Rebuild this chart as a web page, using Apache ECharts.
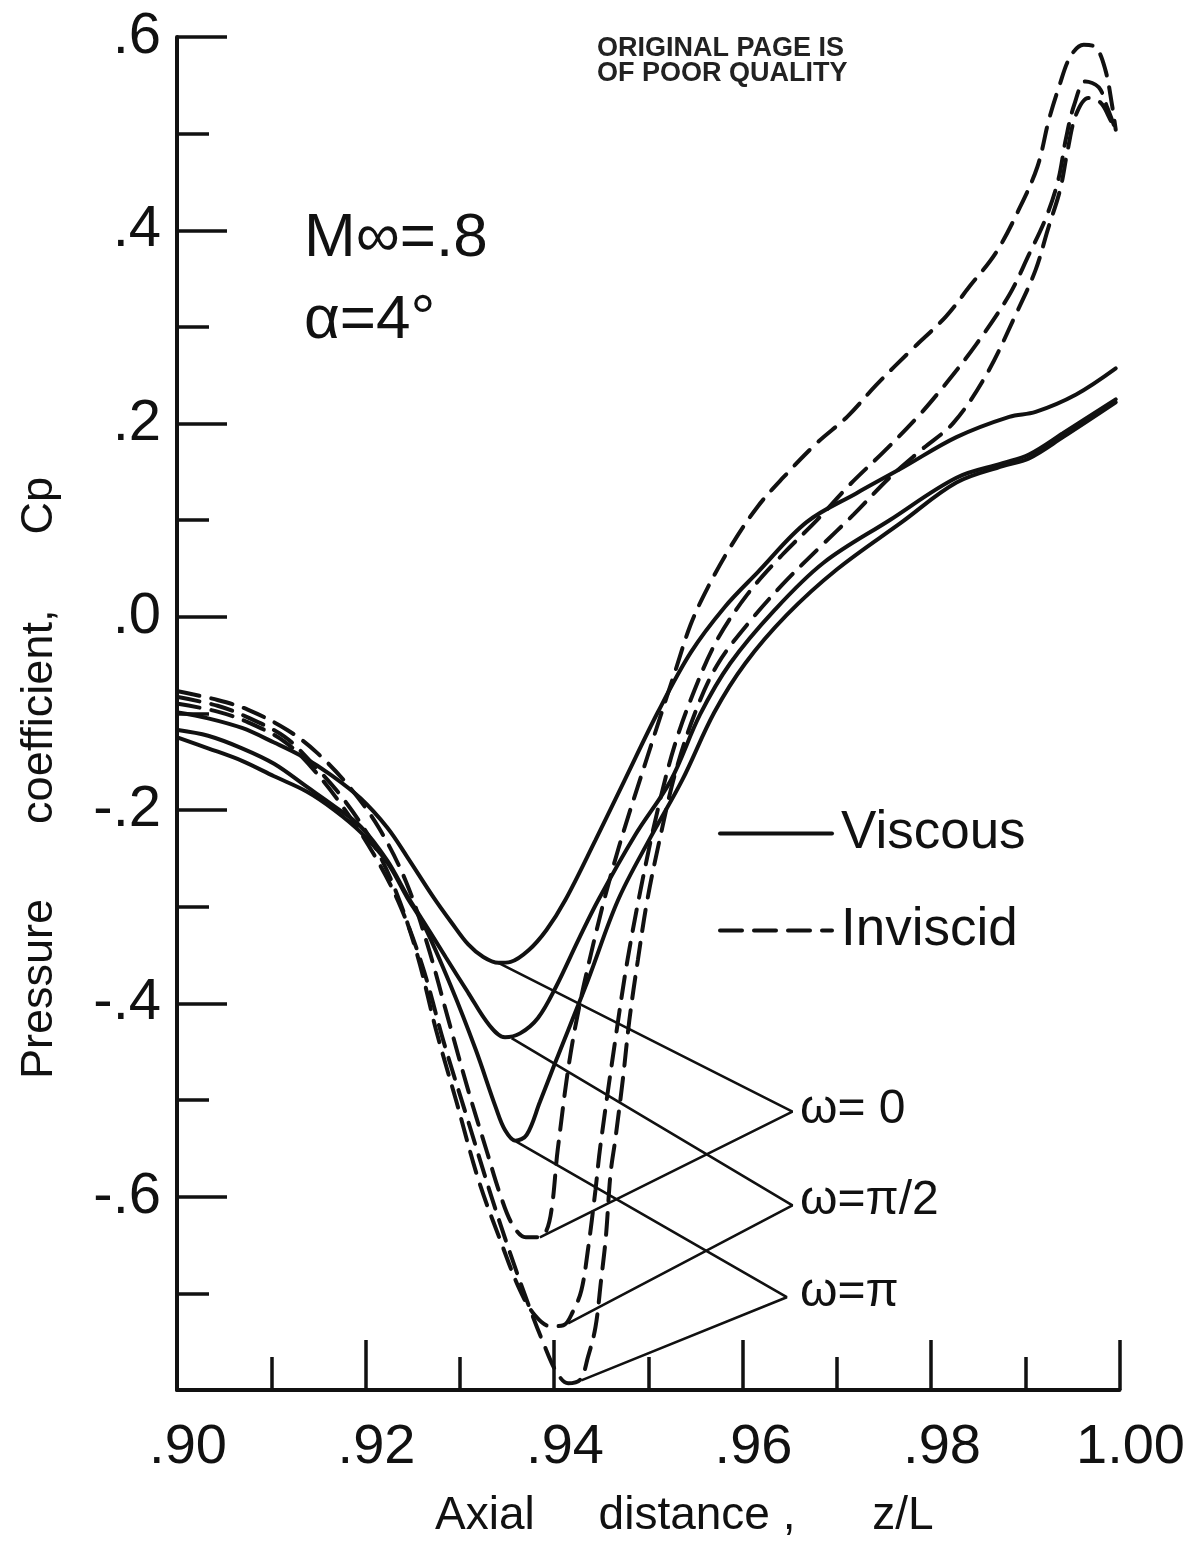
<!DOCTYPE html>
<html>
<head>
<meta charset="utf-8">
<script src="https://cdn.jsdelivr.net/npm/echarts@6/dist/echarts.min.js"></script>
<style>
  html, body { margin: 0; padding: 0; background: #ffffff; }
  #chart { width: 1188px; height: 1545px; }
</style>
</head>
<body>
<div id="chart"></div>
<script>
// Pressure coefficient along the afterbody, M = 0.8, alpha = 4 deg
// Each curve: [z/L, Cp] pairs

// Viscous solutions
const viscousOmega0 = [
  [0.9001,-0.099],[0.9033,-0.105],[0.9069,-0.115],[0.9103,-0.130],[0.9132,-0.144],[0.9164,-0.164],
  [0.9195,-0.188],[0.9223,-0.218],[0.9244,-0.248],[0.9272,-0.290],[0.9291,-0.316],[0.9309,-0.339],
  [0.9325,-0.352],[0.9341,-0.358],[0.9354,-0.357],[0.9373,-0.345],[0.9392,-0.324],[0.9412,-0.293],
  [0.9444,-0.231],[0.9475,-0.169],[0.9510,-0.099],[0.9545,-0.037],[0.9581,0.010],[0.9616,0.046],
  [0.9668,0.098],[0.9721,0.128],[0.9771,0.155],[0.9827,0.186],[0.9883,0.207],[0.9911,0.212],
  [0.9954,0.230],[0.9996,0.257]
];
const viscousOmegaHalfPi = [
  [0.9001,-0.117],[0.9033,-0.123],[0.9069,-0.136],[0.9103,-0.152],[0.9138,-0.176],[0.9167,-0.196],
  [0.9195,-0.217],[0.9223,-0.252],[0.9244,-0.288],[0.9262,-0.316],[0.9285,-0.352],[0.9309,-0.389],
  [0.9331,-0.422],[0.9348,-0.435],[0.9364,-0.431],[0.9383,-0.415],[0.9402,-0.383],[0.9426,-0.334],
  [0.9447,-0.293],[0.9486,-0.226],[0.9524,-0.169],[0.9555,-0.101],[0.9587,-0.048],[0.9634,0.007],
  [0.9686,0.056],[0.9756,0.100],[0.9827,0.144],[0.9876,0.159],[0.9904,0.168],[0.9940,0.190],
  [0.9996,0.225]
];
const viscousOmegaPi = [
  [0.9001,-0.125],[0.9033,-0.136],[0.9069,-0.149],[0.9103,-0.165],[0.9138,-0.181],[0.9167,-0.200],
  [0.9195,-0.223],[0.9223,-0.254],[0.9244,-0.290],[0.9262,-0.319],[0.9291,-0.383],[0.9317,-0.448],
  [0.9338,-0.507],[0.9348,-0.531],[0.9359,-0.542],[0.9371,-0.536],[0.9385,-0.502],[0.9401,-0.462],
  [0.9436,-0.376],[0.9468,-0.293],[0.9502,-0.229],[0.9536,-0.169],[0.9570,-0.099],[0.9603,-0.048],
  [0.9647,0.002],[0.9700,0.049],[0.9769,0.098],[0.9827,0.139],[0.9876,0.156],[0.9904,0.164],
  [0.9940,0.186],[0.9996,0.222]
];

// Inviscid solutions
const inviscidOmega0 = [
  [0.9001,-0.077],[0.9043,-0.086],[0.9075,-0.096],[0.9117,-0.117],[0.9149,-0.141],[0.9183,-0.176],
  [0.9214,-0.218],[0.9243,-0.274],[0.9266,-0.340],[0.9288,-0.417],[0.9309,-0.490],[0.9329,-0.554],
  [0.9343,-0.598],[0.9356,-0.629],[0.9370,-0.642],[0.9383,-0.642],[0.9392,-0.635],[0.9398,-0.609],
  [0.9404,-0.551],[0.9420,-0.438],[0.9444,-0.329],[0.9468,-0.241],[0.9499,-0.145],[0.9528,-0.058],
  [0.9545,-0.008],[0.9563,0.030],[0.9587,0.072],[0.9616,0.114],[0.9644,0.145],[0.9679,0.180],
  [0.9711,0.207],[0.9742,0.240],[0.9779,0.276],[0.9816,0.311],[0.9841,0.342],[0.9869,0.377],
  [0.9893,0.421],[0.9913,0.466],[0.9925,0.514],[0.9936,0.549],[0.9948,0.580],[0.9962,0.592],
  [0.9975,0.589],[0.9985,0.566],[0.9992,0.530],[0.9996,0.504]
];
const inviscidOmegaHalfPi = [
  [0.9001,-0.083],[0.9043,-0.092],[0.9075,-0.104],[0.9114,-0.124],[0.9143,-0.151],[0.9177,-0.189],
  [0.9209,-0.236],[0.9233,-0.286],[0.9255,-0.350],[0.9275,-0.428],[0.9296,-0.500],[0.9320,-0.583],
  [0.9343,-0.645],[0.9364,-0.697],[0.9380,-0.723],[0.9396,-0.734],[0.9410,-0.733],[0.9420,-0.719],
  [0.9429,-0.697],[0.9436,-0.655],[0.9444,-0.593],[0.9449,-0.549],[0.9465,-0.438],[0.9478,-0.355],
  [0.9494,-0.272],[0.9510,-0.200],[0.9528,-0.133],[0.9549,-0.076],[0.9573,-0.024],[0.9605,0.023],
  [0.9642,0.064],[0.9679,0.100],[0.9714,0.137],[0.9750,0.171],[0.9785,0.206],[0.9813,0.238],
  [0.9848,0.282],[0.9883,0.333],[0.9904,0.375],[0.9922,0.413],[0.9935,0.452],[0.9943,0.494],
  [0.9952,0.530],[0.9964,0.554],[0.9978,0.548],[0.9987,0.527],[0.9994,0.509]
];
const inviscidOmegaPi = [
  [0.9001,-0.090],[0.9043,-0.098],[0.9075,-0.109],[0.9114,-0.129],[0.9143,-0.156],[0.9177,-0.198],
  [0.9209,-0.246],[0.9235,-0.295],[0.9260,-0.360],[0.9283,-0.440],[0.9308,-0.519],[0.9333,-0.598],
  [0.9354,-0.660],[0.9373,-0.712],[0.9389,-0.752],[0.9403,-0.782],[0.9415,-0.793],[0.9428,-0.789],
  [0.9436,-0.766],[0.9444,-0.735],[0.9450,-0.686],[0.9455,-0.642],[0.9460,-0.576],[0.9465,-0.541],
  [0.9473,-0.479],[0.9480,-0.417],[0.9489,-0.355],[0.9499,-0.293],[0.9512,-0.231],[0.9528,-0.164],
  [0.9549,-0.101],[0.9573,-0.050],[0.9605,-0.008],[0.9642,0.033],[0.9682,0.072],[0.9718,0.106],
  [0.9756,0.144],[0.9790,0.173],[0.9824,0.201],[0.9859,0.251],[0.9890,0.313],[0.9911,0.359],
  [0.9924,0.401],[0.9937,0.442],[0.9945,0.483],[0.9954,0.520],[0.9967,0.537],[0.9980,0.532],
  [0.9989,0.517],[0.9996,0.502]
];

// Leader lines: viscous minimum -> label point -> inviscid minimum
const leaderOmega0 = [[0.9341,-0.358],[0.9653,-0.512],[0.9385,-0.642]];
const leaderOmegaHalfPi = [[0.9355,-0.436],[0.9653,-0.609],[0.9415,-0.731]];
const leaderOmegaPi = [[0.9360,-0.543],[0.9647,-0.704],[0.9429,-0.790]];

// Axis ticks
const xTicks = { min: 0.90, max: 1.00, step: 0.02 };
const yTicks = { min: -0.8, max: 0.6, step: 0.2 };

const INK = '#111111';
const FONT = 'Liberation Sans';

function fmtX(v) {
  if (Math.abs(v - 1) < 1e-9) return '1.00';
  return '.' + Math.round(v * 100).toString();
}
function fmtY(v) {
  if (Math.abs(v - yTicks.min) < 1e-9) return '';
  const r = Math.round(v * 10);
  if (r === 0) return '.0';
  return (r < 0 ? '-' : '') + '.' + Math.abs(r);
}

function curve(name, data, dashed) {
  return {
    name: name,
    type: 'line',
    data: data,
    smooth: 0.35,
    symbol: 'none',
    silent: true,
    itemStyle: { color: INK },
    lineStyle: { color: INK, width: 4, type: dashed ? [22, 12] : 'solid', cap: 'round' },
    z: 3
  };
}
function leader(name, data) {
  return {
    name: name,
    type: 'line',
    data: data,
    smooth: false,
    symbol: 'none',
    silent: true,
    itemStyle: { color: INK },
    lineStyle: { color: INK, width: 2.6, type: 'solid' },
    z: 2
  };
}

const chart = echarts.init(document.getElementById('chart'), null, { renderer: 'canvas' });

chart.setOption({
  backgroundColor: '#ffffff',
  animation: false,
  grid: { left: 177, right: 65, top: 37, bottom: 155, containLabel: false },
  legend: {
    data: ['Viscous', 'Inviscid'],
    orient: 'vertical',
    left: 713,
    top: 802,
    itemWidth: 112,
    itemHeight: 8,
    itemGap: 44,
    itemStyle: { opacity: 0 },
    lineStyle: { width: 4, color: INK },
    textStyle: { fontFamily: FONT, fontSize: 53, color: INK, padding: [0, 0, 0, 4] },
    selectedMode: false
  },
  xAxis: {
    type: 'value',
    min: xTicks.min,
    max: xTicks.max,
    interval: xTicks.step,
    axisLine: { show: true, onZero: false, lineStyle: { color: INK, width: 4 } },
    axisTick: { show: true, inside: true, length: 50, lineStyle: { color: INK, width: 3.5 } },
    minorTick: { show: true, splitNumber: 2, length: 33, lineStyle: { color: INK, width: 3.5 } },
    splitLine: { show: false },
    axisLabel: { formatter: fmtX, fontFamily: FONT, fontSize: 56, color: INK, margin: 30, padding: [0, 0, 0, 22] }
  },
  yAxis: {
    type: 'value',
    min: yTicks.min,
    max: yTicks.max,
    interval: yTicks.step,
    axisLine: { show: true, onZero: false, lineStyle: { color: INK, width: 4 } },
    axisTick: { show: true, inside: true, length: 50, lineStyle: { color: INK, width: 3.5 } },
    minorTick: { show: true, splitNumber: 2, length: 32, lineStyle: { color: INK, width: 3.5 } },
    splitLine: { show: false },
    axisLabel: { formatter: fmtY, fontFamily: FONT, fontSize: 58, color: INK, margin: 16 }
  },
  series: [
    curve('Viscous', viscousOmega0, false),
    curve('Viscous', viscousOmegaHalfPi, false),
    curve('Viscous', viscousOmegaPi, false),
    curve('Inviscid', inviscidOmega0, true),
    curve('Inviscid', inviscidOmegaHalfPi, true),
    curve('Inviscid', inviscidOmegaPi, true),
    leader('ω = 0', leaderOmega0),
    leader('ω = π/2', leaderOmegaHalfPi),
    leader('ω = π', leaderOmegaPi)
  ],
  graphic: [
    { type: 'text', left: 597, top: 35, style: { text: 'ORIGINAL PAGE IS', font: 'bold 27px ' + FONT, fill: '#222' } },
    { type: 'text', left: 597, top: 60, style: { text: 'OF POOR QUALITY', font: 'bold 27px ' + FONT, fill: '#222' } },
    { type: 'text', left: 304, top: 208, style: { text: 'M∞=.8', font: '62px ' + FONT, fill: INK } },
    { type: 'text', left: 304, top: 290, style: { text: 'α=4°', font: '62px ' + FONT, fill: INK } },
    { type: 'text', left: 800, top: 1086, style: { text: 'ω= 0', font: '48px ' + FONT, fill: INK } },
    { type: 'text', left: 800, top: 1177, style: { text: 'ω=π/2', font: '48px ' + FONT, fill: INK } },
    { type: 'text', left: 800, top: 1269, style: { text: 'ω=π', font: '48px ' + FONT, fill: INK } },
    { type: 'text', left: 435, top: 1493,
      style: { text: 'Axial     distance ,      z/L', font: '46px ' + FONT, fill: INK } },
    { type: 'text', x: 40, y: 778, rotation: Math.PI / 2,
      style: { text: 'Pressure      coefficient,      Cp', font: '45px ' + FONT, fill: INK, textAlign: 'center', textVerticalAlign: 'middle' } }
  ]
});
</script>
</body>
</html>
